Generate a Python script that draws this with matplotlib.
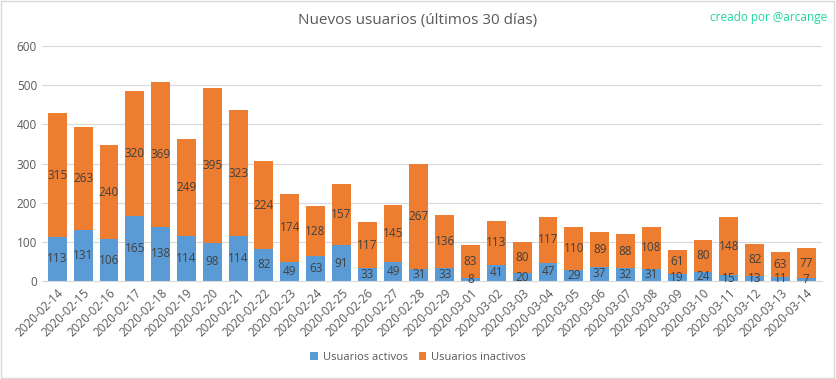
import numpy as np
import matplotlib.pyplot as plt

plt.rcParams['font.family'] = ['Open Sans', 'DejaVu Sans']

# datos
fechas = [
    '2020-02-14', '2020-02-15', '2020-02-16', '2020-02-17', '2020-02-18', '2020-02-19',
    '2020-02-20', '2020-02-21', '2020-02-22', '2020-02-23', '2020-02-24', '2020-02-25',
    '2020-02-26', '2020-02-27', '2020-02-28', '2020-02-29', '2020-03-01', '2020-03-02',
    '2020-03-03', '2020-03-04', '2020-03-05', '2020-03-06', '2020-03-07', '2020-03-08',
    '2020-03-09', '2020-03-10', '2020-03-11', '2020-03-12', '2020-03-13', '2020-03-14',
]
activos = [113, 131, 106, 165, 138, 114, 98, 114, 82, 49, 63, 91, 33, 49, 31, 33,
           8, 41, 20, 47, 29, 37, 32, 31, 19, 24, 15, 13, 11, 7]
inactivos = [315, 263, 240, 320, 369, 249, 395, 323, 224, 174, 128, 157, 117, 145, 267, 136,
             83, 113, 80, 117, 110, 89, 88, 108, 61, 80, 148, 82, 63, 77]

azul = '#5b9bd5'
naranja = '#ed7d31'
gris = '#595959'

fig = plt.figure(figsize=(8.36, 3.79), dpi=100)
ax = fig.add_axes([0.050, 0.2586, 0.933, 0.62])

x = np.arange(len(fechas))
b1 = ax.bar(x, activos, width=0.73, color=azul, label='Usuarios activos', zorder=2)
b2 = ax.bar(x, inactivos, width=0.73, bottom=activos, color=naranja,
            label='Usuarios inactivos', zorder=2)
ax.bar_label(b1, label_type='center', fontsize=8.5, color='#404040')
ax.bar_label(b2, label_type='center', fontsize=8.5, color='#404040')

ax.set_xlim(-0.6, len(fechas) - 0.4)
ax.set_ylim(0, 600)
ax.set_yticks(range(0, 601, 100))
ax.grid(axis='y', color='#d9d9d9', linewidth=0.8, zorder=0)
ax.set_xticks(x)
ax.set_xticklabels(fechas, rotation=45, ha='right', rotation_mode='anchor')
ax.tick_params(axis='both', length=0, colors=gris, labelsize=8.5)
ax.tick_params(axis='x', pad=4)
for s in ['top', 'right', 'left']:
    ax.spines[s].set_visible(False)
ax.spines['bottom'].set_color('#d9d9d9')

fig.text(0.5, 0.945, 'Nuevos usuarios (últimos 30 días)', ha='center', va='center',
         fontsize=11, color=gris)
fig.text(0.99, 0.955, 'creado por @arcange', ha='right', va='center',
         fontsize=8.5, color='#1fd6a0')

fig.legend(handles=[b1, b2], loc='center', bbox_to_anchor=(0.5, 0.057), ncol=2,
           frameon=False, fontsize=8, labelcolor=gris, handlelength=0.7,
           handleheight=0.7, columnspacing=1.0, handletextpad=0.4)

fig.patches.append(plt.Rectangle((0.001, 0.002), 0.997, 0.995, transform=fig.transFigure,
                                 fill=False, edgecolor='#d9d9d9', linewidth=1))

fig.savefig('out.png', dpi=100)
